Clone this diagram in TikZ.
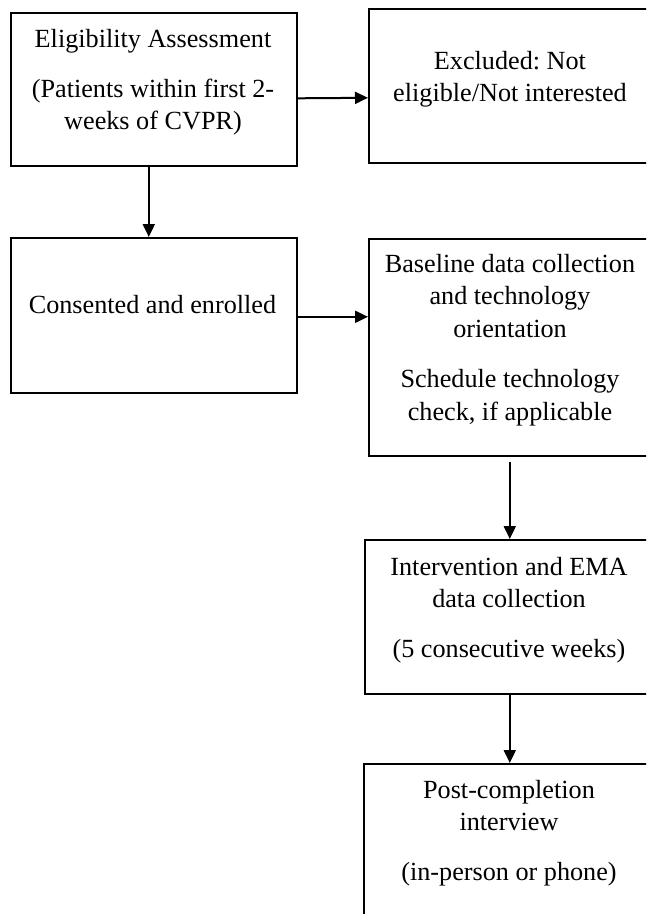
\documentclass[tikz,border=0pt]{standalone}
\usepackage{fontspec}
\setmainfont{Liberation Serif}
\usetikzlibrary{arrows.meta}
\frenchspacing
\newcommand{\flowtext}[1]{\vtop{\hsize=300pt\parindent=0pt\centering\fontsize{26.2pt}{32.5pt}\selectfont #1\par}}
\begin{document}
\begin{tikzpicture}[x=1pt,y=-1pt,
  boxnode/.style={draw, line width=1.6pt, rectangle, inner sep=0pt, anchor=north west},
  txt/.style={anchor=base, inner sep=0pt},
  arr/.style={line width=2pt, -{Triangle[length=13pt,width=12pt]}}]
\clip (0,0) rectangle (646,914);
\fill[white] (0,0) rectangle (646,914);
% boxes
\node[boxnode, minimum width=286pt, minimum height=153pt] (b1) at (10,12) {};
\node[boxnode, minimum width=284pt, minimum height=154pt] (b2) at (368,8) {};
\node[boxnode, minimum width=286pt, minimum height=155pt] (b3) at (10,237) {};
\node[boxnode, minimum width=284pt, minimum height=217pt] (b4) at (368,238) {};
\node[boxnode, minimum width=290pt, minimum height=154pt] (b5) at (364,539) {};
\node[boxnode, minimum width=292pt, minimum height=180pt] (b6) at (363,763) {};
% texts
\node[txt] (t1) at (153,47) {\flowtext{Eligibility Assessment\\[17.5pt](Patients within first 2-\\weeks of CVPR)}};
\node[txt] (t2) at (510,69) {\flowtext{Excluded: Not\\eligible/Not interested}};
\node[txt] (t3) at (152.5,313) {\flowtext{Consented and enrolled}};
\node[txt] (t4) at (510,272) {\flowtext{Baseline data collection\\and technology\\orientation\\[18pt]Schedule technology\\check, if applicable}};
\node[txt] (t5) at (509,575) {\flowtext{Intervention and EMA\\data collection\\[17.5pt](5 consecutive weeks)}};
\node[txt] (t6) at (509,798) {\flowtext{Post-completion\\interview\\[17.5pt](in-person or phone)}};
% arrows
\draw[arr] ([yshift=-9pt]b1.east) -- ([yshift=-12pt]b2.west);
\draw[arr] ([xshift=-5pt]b1.south) -- ([xshift=-5pt]b3.north);
\draw[arr] ([yshift=-1.5pt]b3.east) -- ([yshift=30.5pt]b4.west);
\draw[arr] ([xshift=-1pt,yshift=-5pt]b4.south) -- (b5.north);
\draw[arr] (b5.south) -- (b6.north);
\end{tikzpicture}
\end{document}
